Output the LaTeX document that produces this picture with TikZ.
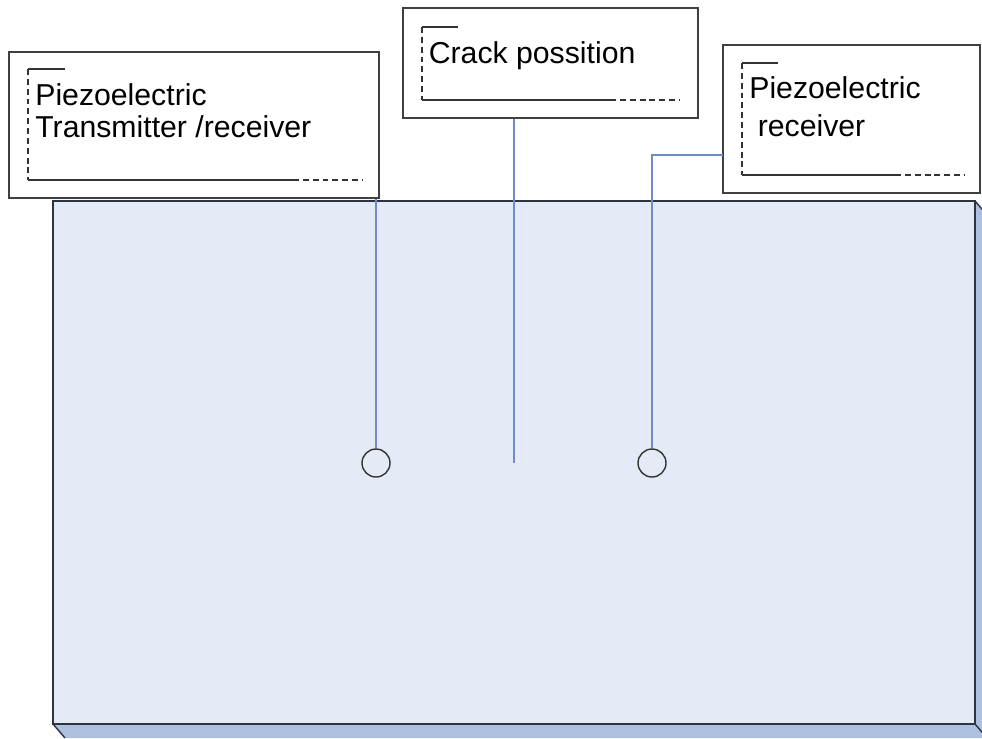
\documentclass[tikz,border=0pt]{standalone}
\usepackage{fontspec}
\setmainfont{Liberation Sans}
\usetikzlibrary{fit}
\definecolor{slabfill}{HTML}{E4EBF6}
\definecolor{slabside}{HTML}{ADC0E0}
\definecolor{slabedge}{HTML}{2B3540}
\definecolor{leadblue}{HTML}{6E8CC6}
\tikzset{
  tag/.style={draw=black!75, line width=1.1pt, fill=white, inner sep=0pt},
  brk/.style={draw=black!80, line width=0.8pt},
  brkdash/.style={brk, dash pattern=on 3.4pt off 2.2pt},
  lbl/.style={inner sep=0pt, align=left, font=\fontsize{17.2}{18.1}\selectfont},
  lead/.style={draw=leadblue, line width=0.8pt},
  sensor/.style={circle, draw=black!80, line width=0.8pt, minimum size=0.56cm, inner sep=0pt}
}

\begin{document}
\begin{tikzpicture}[x=0.02cm, y=-0.02cm]
\useasboundingbox (0,0) rectangle (982,738);
\begin{scope}
\clip (0,0) rectangle (982,738);
% plate
\fill[slabside] (53,724) -- (975,724) -- (987,738) -- (65,738) -- cycle;
\fill[slabside] (975,201) -- (987,215) -- (987,738) -- (975,724) -- cycle;
\draw[slabedge, line width=0.8pt] (53,724) -- (65,738) (975,201) -- (987,215) (975,724) -- (987,738);
\draw[slabedge, line width=1.1pt, fill=slabfill] (53,201) rectangle (975,724);
\end{scope}

	\node[tag, fit={(9,52) (379,198)}] (tagT) {};
	\node[tag, fit={(403,8) (698,118)}] (tagC) {};
	\node[tag, fit={(723,45) (980,193)}] (tagR) {};

	\draw[brk] (65,69) -- (28,69);
	\draw[brkdash] (28,69) -- (28,180);
	\draw[brk] (28,180) -- (293,180);
	\draw[brkdash] (293,180) -- (362,180);

	\draw[brk] (458,27) -- (422,27);
	\draw[brkdash] (422,27) -- (422,100);
	\draw[brk] (422,100) -- (610,100);
	\draw[brkdash] (610,100) -- (680,100);

	\draw[brk] (778,63) -- (742,63);
	\draw[brkdash] (742,63) -- (742,175);
	\draw[brk] (742,175) -- (895,175);
	\draw[brkdash] (895,175) -- (965,175);

	\node[lbl, anchor=base west] (txtT) at (35,137) {Piezoelectric\\Transmitter /receiver};
	\node[lbl, anchor=base west] (txtC) at (428.5,63) {Crack possition};
	\node[lbl, anchor=base west] (txtR) at (749,136) {Piezoelectric\\[3.4pt]\hspace*{.28em}receiver};

	\node[sensor] (sT) at (376,463) {};
	\node[sensor] (sR) at (652,463) {};
	\coordinate (crackTip) at (514,463);
	\coordinate (kneeR) at (723,155);

	\draw[lead] (tagT.south -| sT.north) -- (sT.north);
	\draw[lead] (tagC.south -| crackTip) -- (crackTip);
	\draw[lead] (kneeR) -| (sR.north);
\end{tikzpicture}
\end{document}
